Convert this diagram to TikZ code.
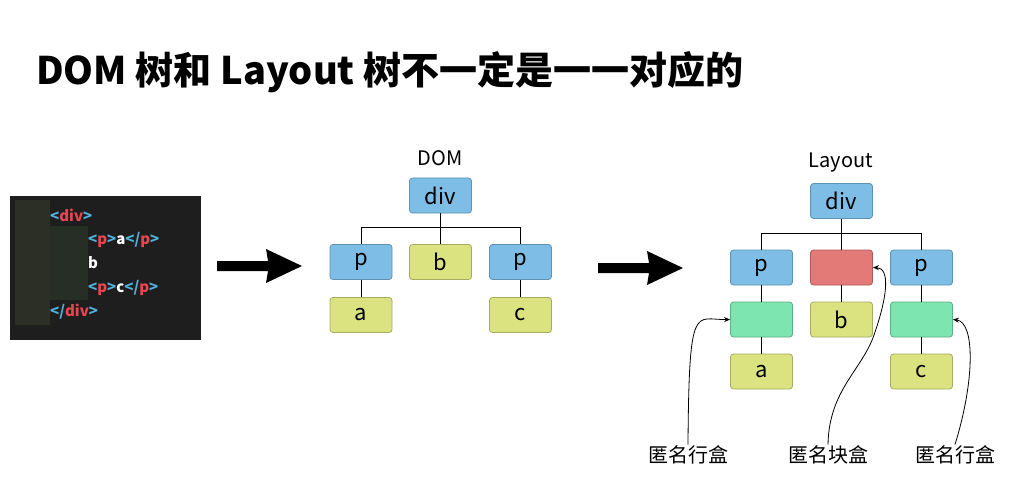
\documentclass[tikz,border=0pt]{standalone}
\usepackage{fontspec}
\setmainfont{Noto Sans CJK SC}
\usetikzlibrary{arrows.meta}
\definecolor{bxblue}{RGB}{125,189,230}
\definecolor{bxblueb}{RGB}{95,145,180}
\definecolor{bxyel}{RGB}{218,227,128}
\definecolor{bxyelb}{RGB}{165,172,95}
\definecolor{bxred}{RGB}{228,122,120}
\definecolor{bxredb}{RGB}{175,90,88}
\definecolor{bxgrn}{RGB}{125,230,176}
\definecolor{bxgrnb}{RGB}{90,175,130}
\definecolor{codebg}{RGB}{30,30,30}
\definecolor{codeguide}{RGB}{44,47,37}
\definecolor{codeguideb}{RGB}{38,46,38}
\definecolor{codecyan}{RGB}{80,178,220}
\definecolor{codered}{RGB}{232,70,80}
\tikzset{
  tbox/.style={rounded corners=3pt, minimum width=62pt, minimum height=35pt, inner sep=0pt, font=\fontsize{22}{24}\selectfont, line width=0.8pt},
  bluebox/.style={tbox, fill=bxblue, draw=bxblueb},
  yelbox/.style={tbox, fill=bxyel, draw=bxyelb},
  redbox/.style={tbox, fill=bxred, draw=bxredb},
  grnbox/.style={tbox, fill=bxgrn, draw=bxgrnb},
  link/.style={draw=black, line width=0.9pt},
  note/.style={draw=black, line width=0.8pt, -{Stealth[length=6pt,width=5pt]}},
  notelab/.style={font=\fontsize{20}{22}\selectfont, inner sep=1pt},
  treelab/.style={font=\fontsize{20}{22}\selectfont, inner sep=0pt},
  codeline/.style={anchor=west, font=\bfseries\fontsize{15}{16}\selectfont, inner sep=0pt, text=white},
  bigarrow/.style={fill=black}
}
\newcommand{\cLt}{\textcolor{codecyan}{<}}
\newcommand{\cGt}{\textcolor{codecyan}{>}}
\newcommand{\cSl}{\textcolor{codecyan}{/}}
\newcommand{\cTg}[1]{\textcolor{codered}{#1}}
\begin{document}
\begin{tikzpicture}[x=1pt,y=-1pt]
\useasboundingbox (0,0) rectangle (1034,500);
\fill[white] (0,0) rectangle (1034,500);

% title
\node[anchor=west, inner sep=0pt, font=\bfseries\fontsize{38}{40}\selectfont] (title) at (36,72) {DOM 树和 Layout 树不一定是一一对应的};

% code box
\fill[codebg] (10,196) rectangle (201,340);
\fill[codeguide] (15,200) rectangle (50,325);
\fill[codeguideb] (50,226) rectangle (88,300);
\node[codeline] (c1) at (50,215) {\cLt\cTg{div}\cGt};
\node[codeline] (c2) at (88,240) {\cLt\cTg{p}\cGt a\cLt\cSl\cTg{p}\cGt};
\node[codeline] (c3) at (88,263) {b};
\node[codeline] (c4) at (88,288) {\cLt\cTg{p}\cGt c\cLt\cSl\cTg{p}\cGt};
\node[codeline] (c5) at (50,312) {\cLt\cSl\cTg{div}\cGt};

% big arrows
\fill[bigarrow] (217,261) -- (268,261) -- (266,249) -- (302,266) -- (266,283) -- (268,271) -- (217,271) -- cycle;
\fill[bigarrow] (598,263) -- (649,263) -- (647,251) -- (683,268) -- (647,285) -- (649,273) -- (598,273) -- cycle;

% DOM tree
\node[treelab] (domlab) at (440,158) {DOM};
\node[bluebox] (ddiv) at (440.5,195.5) {div};
\node[bluebox] (dp1) at (361,262) {p};
\node[yelbox] (db) at (440.5,262) {b};
\node[bluebox] (dp2) at (520.5,262) {p};
\node[yelbox] (da) at (361,315) {a};
\node[yelbox] (dc) at (520.5,315) {c};
\draw[link] (ddiv.south) -- (db.north);
\draw[link] (dp1.north) -- ++(0,-17) -| (dp2.north);
\draw[link] (dp1.south) -- (da.north);
\draw[link] (dp2.south) -- (dc.north);

% Layout tree
\node[treelab] (laylab) at (841,163) {Layout};
\node[bluebox] (ldiv) at (841.5,201) {div};
\node[bluebox] (lp1) at (761.5,267.5) {p};
\node[redbox] (lred) at (841.5,267.5) {};
\node[bluebox] (lp2) at (921.5,267.5) {p};
\node[grnbox] (lg1) at (761.5,319.5) {};
\node[yelbox] (lb) at (841.5,319.5) {b};
\node[grnbox] (lg2) at (921.5,319.5) {};
\node[yelbox] (la) at (761.5,371.5) {a};
\node[yelbox] (lc) at (921.5,371.5) {c};
\draw[link] (ldiv.south) -- (lred.north);
\draw[link] (lp1.north) -- ++(0,-16) -| (lp2.north);
\draw[link] (lp1.south) -- (lg1.north);
\draw[link] (lg1.south) -- (la.north);
\draw[link] (lred.south) -- (lb.north);
\draw[link] (lp2.south) -- (lg2.north);
\draw[link] (lg2.south) -- (lc.north);

% annotations
\node[notelab] (n1) at (688,455) {匿名行盒};
\node[notelab] (n2) at (828,455) {匿名块盒};
\node[notelab] (n3) at (955,455) {匿名行盒};
\draw[note] (n1.north) .. controls (689,300) and (695,320) .. (lg1.west);
\draw[note] (n2.north) .. controls (829,390) and (862,370) .. (874,335) .. controls (888,295) and (890,268) .. (lred.east);
\draw[note] (n3.north) .. controls (975,380) and (975,322) .. (lg2.east);
\end{tikzpicture}
\end{document}
